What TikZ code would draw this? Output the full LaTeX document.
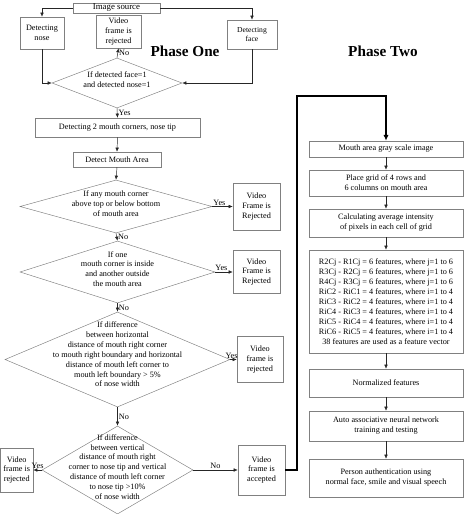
\documentclass[tikz,border=0pt]{standalone}
\usepackage{fontspec}
\setmainfont{Liberation Serif}
\usetikzlibrary{shapes.geometric,arrows.meta}
\definecolor{boxgray}{gray}{0.5}
% text of a decision, kept from widening the diamond
\newcommand{\dlines}[1]{\smash{\makebox[0pt]{\begin{tabular}{@{}c@{}}#1\end{tabular}}}}
\begin{document}
\begin{tikzpicture}[x=0.03cm,y=-0.03cm,
 every node/.style={font=\fontsize{7}{8.5}\selectfont},
 box/.style={draw=boxgray,rectangle,inner sep=1pt,align=center},
 decision/.style={draw=boxgray,diamond,inner sep=0pt},
 flow/.style={draw=black!85,-{Latex[length=3.5pt,width=3pt]}},
 tag/.style={inner sep=1pt},
 phase/.style={font=\fontsize{13}{15}\selectfont\bfseries},
 loopline/.style={draw=black,line width=1.1pt,-{Latex[length=5pt,width=4.5pt]}}]
 \useasboundingbox (0,0) rectangle (467,514);
 % phase one
 \node[box,minimum width=2.61cm,minimum height=0.3cm,font=\fontsize{7.5}{9}\selectfont] (src) at (116.5,8) {Image source};
 \node[box,minimum width=1.32cm,minimum height=0.96cm] (nose) at (42,33) {Detecting\\nose};
 \node[box,minimum width=1.35cm,minimum height=0.99cm] (rej0) at (118.5,31.5) {Video\\frame is\\rejected};
 \node[box,minimum width=1.5cm,minimum height=0.87cm,font=\fontsize{6.5}{8}\selectfont] (face) at (252,34.5) {Detecting\\face};
 \node[phase] (ph1) at (185,51) {Phase One};
 \node[phase] (ph2) at (383,51) {Phase Two};
 \node[decision,minimum width=3.9cm,minimum height=1.5cm] (d1) at (117,83) {\dlines{If detected face=1\\and detected nose=1}};
 \node[box,minimum width=4.95cm,minimum height=0.57cm] (m1) at (117.5,127.5) {Detecting 2 mouth corners, nose tip};
 \node[box,minimum width=2.64cm,minimum height=0.45cm] (m2) at (117,159.5) {Detect Mouth Area};
 \node[decision,minimum width=5.76cm,minimum height=1.59cm] (d2) at (116,206.5) {\dlines{If any mouth corner\\above top or below bottom\\of mouth area}};
 \node[box,minimum width=1.41cm,minimum height=1.41cm] (r2) at (256.5,206.5) {Video\\Frame is\\Rejected};
 \node[decision,minimum width=5.85cm,minimum height=1.86cm] (d3) at (117.5,272) {\dlines{If one\\mouth corner is inside\\and another outside\\the mouth area}};
 \node[box,minimum width=1.41cm,minimum height=1.29cm] (r3) at (256.5,272) {Video\\Frame is\\Rejected};
 \node[decision,minimum width=6.75cm,minimum height=2.85cm] (d4) at (117.5,359.5) {\raisebox{4pt}{\dlines{If difference\\between horizontal\\distance of mouth right corner\\to mouth right boundary and horizontal\\distance of mouth left corner to\\mouth left boundary > 5\%\\of nose width}}};
 \node[box,minimum width=1.38cm,minimum height=1.38cm] (r4) at (260,359.5) {Video\\frame is\\rejected};
 \node[decision,minimum width=4.53cm,minimum height=2.64cm] (d5) at (117.5,470) {\dlines{If difference\\between vertical\\distance of mouth right\\corner to nose tip and vertical\\distance of mouth left corner\\to nose tip >10\%\\of nose width}};
 \node[box,minimum width=0.975cm,minimum height=1.32cm] (r5) at (16.75,470) {Video\\frame is\\rejected};
 \node[box,minimum width=1.41cm,minimum height=1.5cm] (acc) at (261.5,470) {Video\\frame is\\accepted};
 % phase two
 \node[box,minimum width=4.62cm,minimum height=0.48cm] (p1) at (386,149) {Mouth area gray scale image};
 \node[box,minimum width=4.62cm,minimum height=0.78cm] (p2) at (386,183) {Place grid of 4 rows and\\6 columns on mouth area};
 \node[box,minimum width=4.62cm,minimum height=0.84cm] (p3) at (386,223) {Calculating average intensity\\of pixels in each cell of grid};
 \node[box,minimum width=4.62cm,minimum height=3.09cm] (p4) at (386,301.5) {R2Cj - R1Cj = 6 features, where j=1 to 6\\R3Cj - R2Cj = 6 features, where j=1 to 6\\R4Cj - R3Cj = 6 features, where j=1 to 6\\RiC2 - RiC1 = 4 features, where i=1 to 4\\RiC3 - RiC2 = 4 features, where i=1 to 4\\RiC4 - RiC3 = 4 features, where i=1 to 4\\RiC5 - RiC4 = 4 features, where i=1 to 4\\RiC6 - RiC5 = 4 features, where i=1 to 4\\38 features are used as a feature vector};
 \node[box,minimum width=4.62cm,minimum height=0.84cm] (p5) at (386,383) {Normalized features};
 \node[box,minimum width=4.62cm,minimum height=0.9cm] (p6) at (386,426) {Auto associative neural network\\training and testing};
 \node[box,minimum width=4.62cm,minimum height=1.14cm] (p7) at (386,478) {Person authentication using\\normal face, smile and visual speech};
 \coordinate (turn) at (297,96);
 % connectors
 \draw[flow] (src.west) -| (nose.north);
 \draw[flow] (src.east) -| (face.north);
 \draw[flow] (nose.south) |- (d1.west);
 \draw[flow] (face.south) |- (d1.east);
 \draw[flow] (d1.north) -- (rej0.south) node[tag,midway,right] {No};
 \draw[flow] (d1.south) -- (m1.north) node[tag,midway,right] {Yes};
 \draw[flow] (m1.south) -- (m2.north);
 \draw[flow] (m2.south) -- (d2.north);
 \draw[flow] (d2.east) -- (r2.west) node[tag,pos=0.35,above] {Yes};
 \draw[flow] (d2.south) -- (d3.north) node[tag,midway,right] {No};
 \draw[flow] (d3.east) -- (r3.west) node[tag,pos=0.35,above] {Yes};
 \draw[flow] (d3.south) -- (d4.north) node[tag,midway,right] {No};
 \draw[flow] (d4.east) -- (r4.west) node[tag,pos=0.2,above] {Yes};
 \draw[flow] (d4.south) -- (d5.north) node[tag,midway,right] {No};
 \draw[flow] (d5.west) -- (r5.east) node[tag,midway,above] {Yes};
 \draw[flow] (d5.east) -- (acc.west) node[tag,midway,above] {No};
 \draw[loopline] (acc.east) -| (turn) -| (p1.north);
 \draw[flow] (p1.south) -- (p2.north);
 \draw[flow] (p2.south) -- (p3.north);
 \draw[flow] (p3.south) -- (p4.north);
 \draw[flow] (p4.south) -- (p5.north);
 \draw[flow] (p5.south) -- (p6.north);
 \draw[flow] (p6.south) -- (p7.north);
\end{tikzpicture}
\end{document}
